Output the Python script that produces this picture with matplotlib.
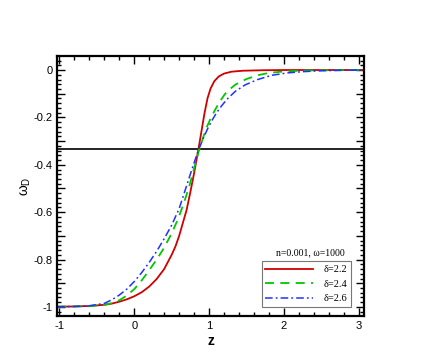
import numpy as np
import matplotlib
matplotlib.use('Agg')
import matplotlib.pyplot as plt
from matplotlib.ticker import MultipleLocator, FuncFormatter

plt.rcParams['font.family'] = ['Liberation Sans', 'DejaVu Sans']
plt.rcParams['axes.unicode_minus'] = False

#Curves
z_22 = [-1.03, -0.8, -0.6, -0.4, -0.3, -0.2, -0.1, 0.0, 0.1, 0.2, 0.3, 0.4, 0.45, 0.5, 0.55,
        0.6, 0.65, 0.7, 0.75, 0.8, 0.86, 0.9, 0.94, 0.98, 1.02, 1.07, 1.13, 1.2, 1.3, 1.45,
        1.7, 2.0, 3.07]
w_22 = [-0.999, -0.998, -0.996, -0.991, -0.986, -0.978, -0.968, -0.955, -0.938, -0.914,
        -0.882, -0.84, -0.81, -0.78, -0.745, -0.70, -0.645, -0.59, -0.515, -0.435, -0.33,
        -0.255, -0.18, -0.118, -0.078, -0.047, -0.027, -0.015, -0.007, -0.003, -0.001, 0.0, 0.0]

z_24 = [-1.03, -0.8, -0.6, -0.4, -0.3, -0.2, -0.1, 0.0, 0.1, 0.2, 0.3, 0.39, 0.5, 0.59, 0.67,
        0.74, 0.8, 0.86, 0.92, 0.97, 1.02, 1.08, 1.14, 1.21, 1.28, 1.35, 1.42, 1.5, 1.65,
        1.8, 2.0, 2.3, 2.6, 3.07]
w_24 = [-0.999, -0.998, -0.997, -0.991, -0.984, -0.972, -0.952, -0.925, -0.888, -0.845,
        -0.80, -0.755, -0.69, -0.625, -0.555, -0.485, -0.415, -0.345, -0.285, -0.24, -0.205,
        -0.168, -0.135, -0.102, -0.08, -0.062, -0.05, -0.038, -0.022, -0.012, -0.006,
        -0.002, -0.001, 0.0]

z_26 = [-1.03, -0.8, -0.6, -0.4, -0.3, -0.2, -0.1, 0.0, 0.1, 0.2, 0.3, 0.4, 0.5, 0.6, 0.7,
        0.78, 0.85, 0.92, 0.98, 1.04, 1.1, 1.17, 1.24, 1.35, 1.48, 1.65, 1.84, 2.05, 2.25,
        2.5, 2.8, 3.07]
w_26 = [-0.999, -0.998, -0.995, -0.985, -0.97, -0.95, -0.925, -0.893, -0.855, -0.812,
        -0.765, -0.712, -0.655, -0.585, -0.488, -0.41, -0.345, -0.29, -0.248, -0.212, -0.18,
        -0.15, -0.123, -0.09, -0.063, -0.04, -0.022, -0.012, -0.007, -0.003, -0.001, 0.0]

labels = ['\u03b4=2.2', '\u03b4=2.4', '\u03b4=2.6']

#%%
fig = plt.figure(figsize=(4.36, 3.57), dpi=100)
ax = fig.add_axes([0.131, 0.115, 0.704, 0.728])

ax.axhline(-1/3, color='black', lw=1.2)
ax.plot(z_22, w_22, color='#d00000', lw=1.3, ls='-', label=labels[0])
ax.plot(z_24, w_24, color='#00c800', lw=1.3, ls=(0, (5, 3.5)), label=labels[1])
ax.plot(z_26, w_26, color='#2030ff', lw=1.1, ls=(0, (5, 2, 1.2, 2)), label=labels[2])

ax.set_xlim(-1.03, 3.07)
ax.set_ylim(-1.038, 0.059)

ax.xaxis.set_major_locator(MultipleLocator(1))
ax.xaxis.set_minor_locator(MultipleLocator(0.2))
ax.yaxis.set_major_locator(MultipleLocator(0.1))
ax.yaxis.set_minor_locator(MultipleLocator(0.02))

def yfmt(v, pos):
    k = int(round(v * 10))
    if k % 2 != 0:
        return ''
    if k == 0:
        return '0'
    if k == -10:
        return '-1'
    return '%.1f' % (k / 10)

ax.yaxis.set_major_formatter(FuncFormatter(yfmt))
ax.xaxis.set_major_formatter(FuncFormatter(lambda v, p: '%d' % round(v)))

ax.tick_params(which='both', direction='in', top=True, right=True, labelsize=8, width=1)
ax.tick_params(which='major', length=6)
ax.tick_params(which='minor', length=3)
for s in ax.spines.values():
    s.set_linewidth(1.6)

ax.set_xlabel('z', fontsize=10, fontweight='bold', labelpad=2)
ax.set_ylabel('\u03c9$_\\mathregular{D}$', fontsize=10, labelpad=0)

ax.text(0.824, 0.242, 'n=0.001, \u03c9=1000', transform=ax.transAxes, ha='center',
        va='center', fontsize=7, family=['Liberation Serif', 'DejaVu Serif'])
leg = ax.legend(loc='lower right', bbox_to_anchor=(0.958, 0.035), borderaxespad=0,
                prop={'family': ['Liberation Serif', 'DejaVu Serif'], 'size': 7.5},
                frameon=True, fancybox=False, edgecolor='#555555', handlelength=4.6,
                borderpad=0.35, labelspacing=0.5, handletextpad=1.0)
leg.get_frame().set_linewidth(0.8)

plt.savefig('out.png', dpi=100)
